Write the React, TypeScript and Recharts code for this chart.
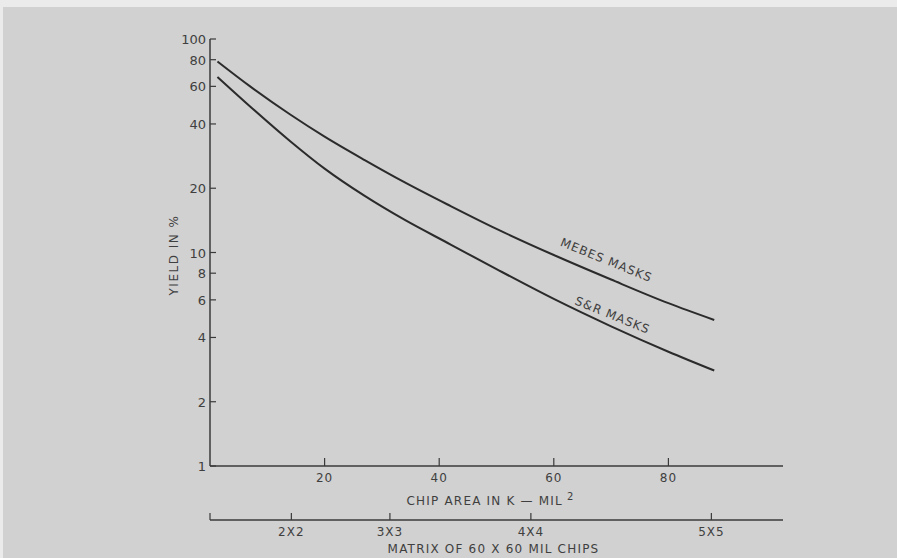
import { LineChart, Line, XAxis, YAxis, ReferenceDot } from 'recharts';

// chip area in K-mil^2 where the curves were read
const AREA = [1.3, 7, 14, 20, 27, 34, 42, 50, 60, 70, 80, 88];
const MEBES_YIELD = [78.5, 60.0, 44.3, 34.9, 27.1, 21.3, 16.5, 12.9, 9.73, 7.47, 5.79, 4.83];
const SR_YIELD = [66.4, 48.3, 33.2, 24.7, 18.4, 14.2, 10.9, 8.36, 6.06, 4.51, 3.43, 2.8];

const AREA_TICKS = [20, 40, 60, 80];
const YIELD_TICKS = [1, 2, 4, 6, 8, 10, 20, 40, 60, 80, 100];
const MATRIX_TICKS = [0, 14.2, 31.4, 56, 87.5];
const MATRIX_LABELS = ['', '2X2', '3X3', '4X4', '5X5'];

const data = AREA.map((area, i) => ({ area, mebes: MEBES_YIELD[i], sr: SR_YIELD[i] }));

const INK = '#3a3a3a';
const TEXT = '#3f3f3f';
const FONT = '"DejaVu Sans", sans-serif';

function YTick({ x, y, payload }: any) {
    return (
        <g>
            <line x1={x} y1={y} x2={x + 6} y2={y} stroke={INK} strokeWidth={1.2} />
            <text x={x - 4} y={y} dy={5} textAnchor="end" fontSize={13} fill={TEXT} fontFamily={FONT}>
                {payload.value}
            </text>
        </g>
    );
}

function AreaTick({ x, y, payload }: any) {
    return (
        <g>
            <line x1={x} y1={y} x2={x} y2={y - 8} stroke={INK} strokeWidth={1.2} />
            <text x={x} y={y + 16} textAnchor="middle" fontSize={12} fill={TEXT} fontFamily={FONT} letterSpacing={1}>
                {payload.value}
            </text>
        </g>
    );
}

function MatrixTick({ x, y, payload }: any) {
    const i = MATRIX_TICKS.indexOf(payload.value);
    return (
        <g>
            <line x1={x} y1={y} x2={x} y2={y - 7} stroke={INK} strokeWidth={1.2} />
            <text x={x} y={y + 16} textAnchor="middle" fontSize={12} fill={TEXT} fontFamily={FONT} letterSpacing={1}>
                {MATRIX_LABELS[i] ?? ''}
            </text>
        </g>
    );
}

function CurveLabel({ viewBox, text }: any) {
    const cx = viewBox.x + viewBox.width / 2;
    const cy = viewBox.y + viewBox.height / 2;
    return (
        <text
            x={cx}
            y={cy}
            textAnchor="middle"
            fontSize={12}
            fill={TEXT}
            fontFamily={FONT}
            letterSpacing={1}
            transform={`rotate(22 ${cx} ${cy})`}
        >
            {text}
        </text>
    );
}

export default function App() {
    return (
        <div style={{ position: 'fixed', left: 0, top: 0, width: 897, height: 558, background: '#d1d1d1', overflow: 'hidden' }}>
            <div style={{ position: 'absolute', left: 0, top: 0, width: 897, height: 7, background: '#ebebeb' }} />
            <div style={{ position: 'absolute', left: 0, top: 0, width: 3, height: 558, background: '#ebebeb' }} />
            <LineChart width={897} height={558} data={data} margin={{ top: 39, right: 114, left: 160, bottom: 0 }}>
                <XAxis
                    xAxisId="area"
                    dataKey="area"
                    type="number"
                    domain={[0, 100]}
                    allowDataOverflow
                    ticks={AREA_TICKS}
                    tick={<AreaTick />}
                    tickSize={0}
                    tickMargin={0}
                    tickLine={false}
                    axisLine={{ stroke: INK, strokeWidth: 1.5 }}
                    height={54}
                    label={({ viewBox }: any) => (
                        <text x={viewBox.x + viewBox.width / 2 - 6} y={viewBox.y + 39} textAnchor="middle" fontSize={12} fill={TEXT} fontFamily={FONT} letterSpacing={1.2}>
                            CHIP AREA IN K — MIL
                            <tspan dx={4} dy={-5} fontSize={10}>2</tspan>
                        </text>
                    )}
                />
                <XAxis
                    xAxisId="matrix"
                    dataKey="area"
                    type="number"
                    domain={[0, 100]}
                    allowDataOverflow
                    ticks={MATRIX_TICKS}
                    tick={<MatrixTick />}
                    tickSize={0}
                    tickMargin={0}
                    tickLine={false}
                    interval={0}
                    axisLine={{ stroke: INK, strokeWidth: 1.5 }}
                    height={38}
                    label={({ viewBox }: any) => (
                        <text x={viewBox.x + viewBox.width / 2 - 3} y={viewBox.y + 33} textAnchor="middle" fontSize={12} fill={TEXT} fontFamily={FONT} letterSpacing={1.2}>
                            MATRIX OF 60 X 60 MIL CHIPS
                        </text>
                    )}
                />
                <YAxis
                    scale="log"
                    type="number"
                    domain={[1, 100]}
                    ticks={YIELD_TICKS}
                    tick={<YTick />}
                    tickSize={0}
                    tickMargin={0}
                    tickLine={false}
                    interval={0}
                    allowDataOverflow
                    width={50}
                    axisLine={{ stroke: INK, strokeWidth: 1.5 }}
                    label={({ viewBox }: any) => {
                        const lx = viewBox.x + 18;
                        const ly = 255;
                        return (
                            <text x={lx} y={ly} textAnchor="middle" fontSize={12} fill={TEXT} fontFamily={FONT} letterSpacing={1.5} transform={`rotate(-90 ${lx} ${ly})`}>
                                YIELD IN %
                            </text>
                        );
                    }}
                />
                <Line xAxisId="area" type="monotone" dataKey="mebes" stroke="#2b2b2b" strokeWidth={2} dot={false} isAnimationActive={false} />
                <Line xAxisId="area" type="monotone" dataKey="sr" stroke="#2b2b2b" strokeWidth={2} dot={false} isAnimationActive={false} />
                <ReferenceDot xAxisId="area" x={68.9} y={8.84} r={1} fill="none" stroke="none" label={<CurveLabel text="MEBES MASKS" />} />
                <ReferenceDot xAxisId="area" x={70} y={4.88} r={1} fill="none" stroke="none" label={<CurveLabel text="S&R MASKS" />} />
            </LineChart>
        </div>
    );
}
